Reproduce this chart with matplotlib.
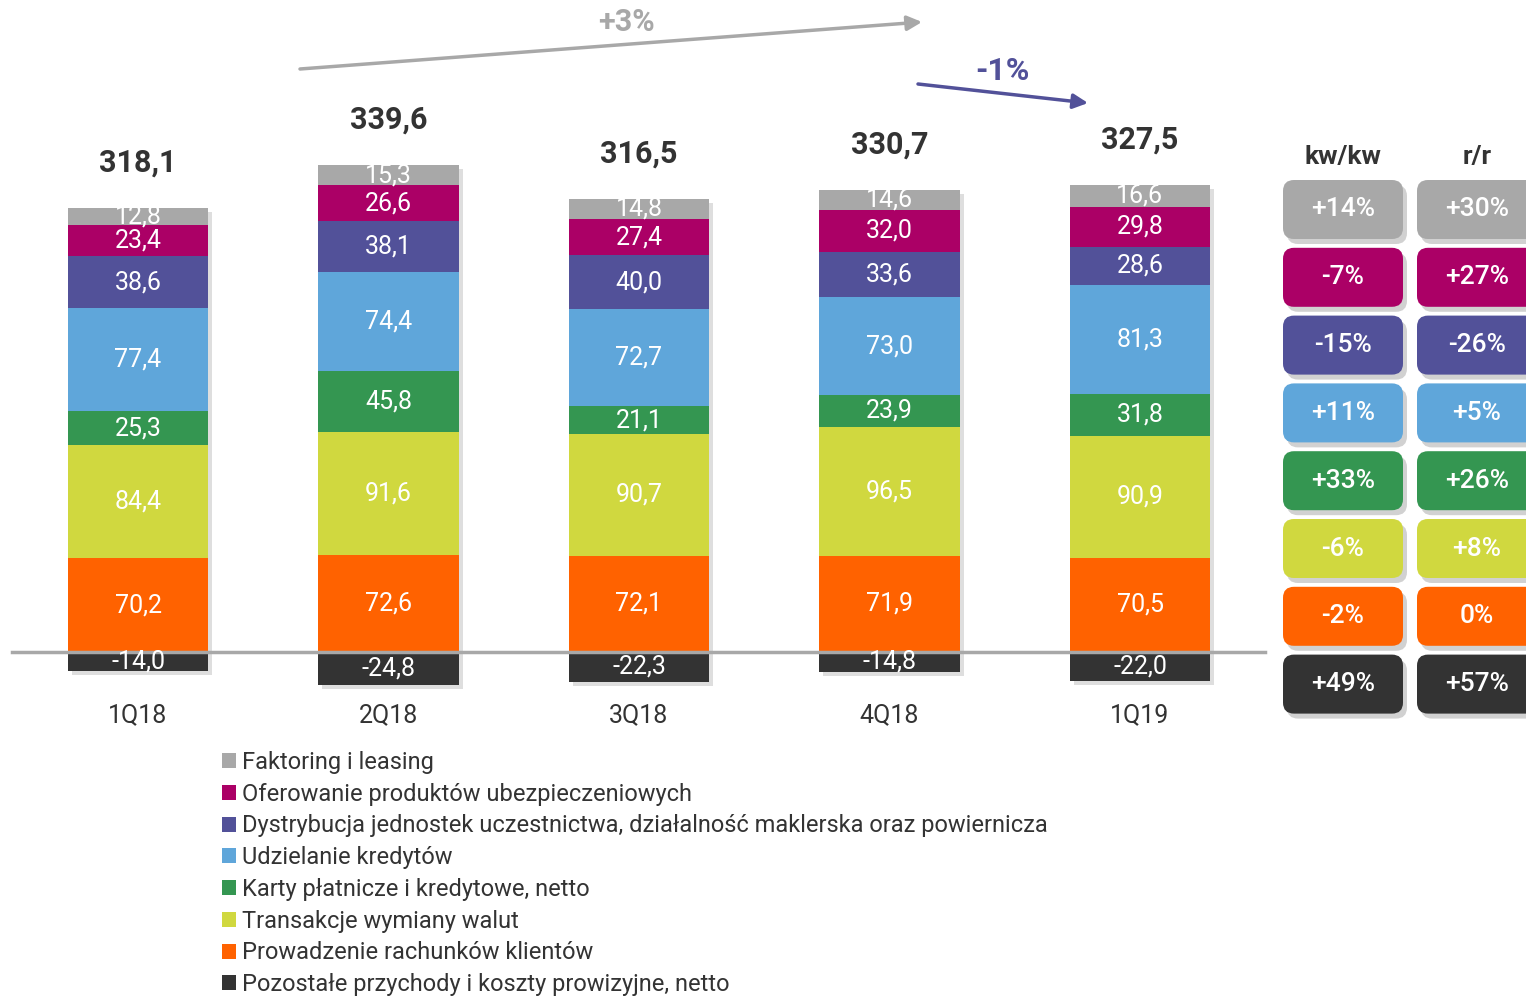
import numpy as np
import matplotlib.pyplot as plt
from matplotlib.patches import FancyBboxPatch, Patch

plt.rcParams['font.family'] = ['Roboto', 'DejaVu Sans']

quarters = ['1Q18', '2Q18', '3Q18', '4Q18', '1Q19']

faktoring = [12.8, 15.3, 14.8, 14.6, 16.6]
ubezpieczenia = [23.4, 26.6, 27.4, 32.0, 29.8]
dystrybucja = [38.6, 38.1, 40.0, 33.6, 28.6]
kredyty = [77.4, 74.4, 72.7, 73.0, 81.3]
karty = [25.3, 45.8, 21.1, 23.9, 31.8]
waluty = [84.4, 91.6, 90.7, 96.5, 90.9]
rachunki = [70.2, 72.6, 72.1, 71.9, 70.5]
pozostale = [-14.0, -24.8, -22.3, -14.8, -22.0]

names = ['Faktoring i leasing',
         'Oferowanie produktów ubezpieczeniowych',
         'Dystrybucja jednostek uczestnictwa, działalność maklerska oraz powiernicza',
         'Udzielanie kredytów',
         'Karty płatnicze i kredytowe, netto',
         'Transakcje wymiany walut',
         'Prowadzenie rachunków klientów',
         'Pozostałe przychody i koszty prowizyjne, netto']
colors = ['#A8A8A8', '#AB0066', '#525199', '#5FA6DA',
          '#349651', '#D0D83F', '#FF6200', '#333333']

kwkw = ['+14%', '-7%', '-15%', '+11%', '+33%', '-6%', '-2%', '+49%']
rr = ['+30%', '+27%', '-26%', '+5%', '+26%', '+8%', '0%', '+57%']

trend_yy = '+3%'
trend_qq = '-1%'

W, H = 1526, 999
fig = plt.figure(figsize=(W / 100, H / 100), dpi=100)

# bar axes: map data units onto the picture
x0, step = 138, 250.5
y0, ppu = 652, 1.337
ax = fig.add_axes([0, 0, 1, 1])
ax.set_xlim(-x0 / step, (W - x0) / step)
ax.set_ylim(-(H - y0) / ppu, y0 / ppu)
ax.axis('off')

# overlay in pixel units for the decorations
ov = fig.add_axes([0, 0, 1, 1], zorder=5)
ov.set_xlim(0, W)
ov.set_ylim(H, 0)
ov.axis('off')
ov.patch.set_alpha(0)

def fmt(v):
    return f'{v:.1f}'.replace('.', ',')

x = np.arange(len(quarters))
width = 0.56
lab_fs = 18

stack = [rachunki, waluty, karty, kredyty, dystrybucja, ubezpieczenia, faktoring]
stack_colors = colors[6::-1]
bottom = np.zeros(len(quarters))
for vals, c in zip(stack, stack_colors):
    vals = np.array(vals)
    ax.bar(x, vals, width, bottom=bottom, color=c, zorder=2)
    for xi, v, b0 in zip(x, vals, bottom):
        ax.text(xi, b0 + v / 2, fmt(v), ha='center', va='center',
                color='white', fontsize=lab_fs, zorder=4)
    bottom += vals

neg = np.array(pozostale)
ax.bar(x, neg, width, color=colors[7], zorder=2)
for xi, v in zip(x, neg):
    ax.text(xi, v / 2, fmt(v), ha='center', va='center',
            color='white', fontsize=lab_fs, zorder=4)

# soft shadow behind each whole column
ax.bar(x + 4 / step, bottom - neg, width, bottom=neg - 4 / ppu,
       color='black', alpha=0.13, zorder=1)

totals = bottom + neg
for xi, top, t in zip(x, bottom, totals):
    ax.text(xi, top + 34, fmt(t), ha='center', va='center',
            color='#333333', fontsize=22, fontweight='bold')

for xi, q in zip(x, quarters):
    ax.text(xi, -47, q, ha='center', va='center', color='#333333', fontsize=18)

ax.axhline(0, xmin=12 / W, xmax=1265 / W, color='#A8A8A8', lw=2.5, zorder=3)

# trend arrows
ov.annotate('', xy=(922, 22), xytext=(300, 69),
            arrowprops=dict(arrowstyle='-|>', color='#A8A8A8', lw=2.5,
                            mutation_scale=22, shrinkA=0, shrinkB=0))
ov.text(626, 22, trend_yy, ha='center', va='center', color='#A8A8A8',
        fontsize=22, fontweight='bold')
ov.annotate('', xy=(1088, 103), xytext=(918, 84),
            arrowprops=dict(arrowstyle='-|>', color='#525199', lw=2.5,
                            mutation_scale=22, shrinkA=0, shrinkB=0))
ov.text(1002, 71, trend_qq, ha='center', va='center', color='#525199',
        fontsize=23, fontweight='bold')

# change table
cols = [(1283, 'kw/kw', kwkw), (1417, 'r/r', rr)]
bw, bh, row0, rstep = 120, 59, 180, 67.8
for cx, head, vals in cols:
    ov.text(cx + bw / 2, 157, head, ha='center', va='center',
            color='#333333', fontsize=19, fontweight='bold')
    for i, (v, c) in enumerate(zip(vals, colors)):
        top = row0 + i * rstep
        ov.add_patch(FancyBboxPatch((cx + 4, top + 5), bw, bh,
                                    boxstyle='round,pad=0,rounding_size=11',
                                    fc='#000000', ec='none', alpha=0.18))
        ov.add_patch(FancyBboxPatch((cx, top), bw, bh,
                                    boxstyle='round,pad=0,rounding_size=11',
                                    fc=c, ec='none'))
        ov.text(cx + bw / 2, top + bh / 2, v, ha='center', va='center',
                color='white', fontsize=19, fontweight='medium')

handles = [Patch(facecolor=c, edgecolor='none') for c in colors]
fig.legend(handles, names, loc='upper left', bbox_to_anchor=(222 / W, 1 - 751 / H),
           frameon=False, fontsize=17, labelspacing=0.37, handlelength=0.6,
           handleheight=0.6, handletextpad=0.25, borderaxespad=0, borderpad=0,
           labelcolor='#333333')

fig.savefig('out.png', dpi=100)
